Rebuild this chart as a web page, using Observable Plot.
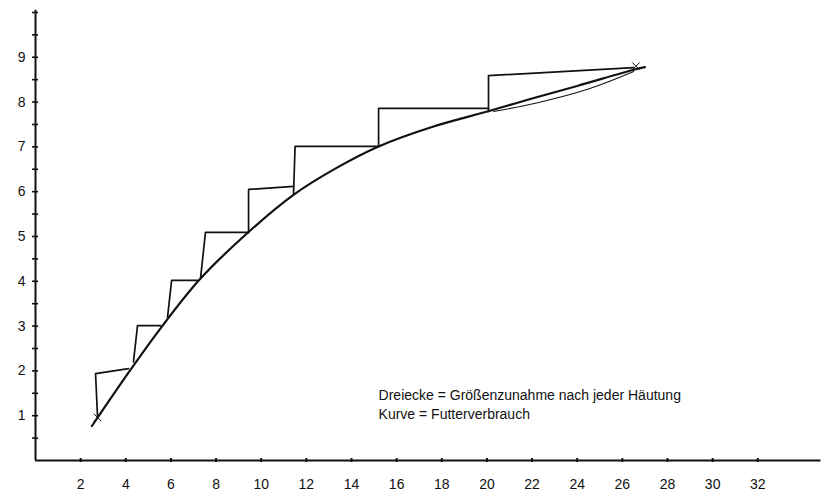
<!DOCTYPE html>
<html>
<head>
<meta charset="utf-8">
<script src="https://cdn.jsdelivr.net/npm/d3@7"></script>
<script src="https://cdn.jsdelivr.net/npm/@observablehq/plot@0.6"></script>
<style>
  html, body { margin: 0; padding: 0; background: #fff; }
  #chart svg { display: block; }
</style>
</head>
<body>
<div id="chart"></div>
<script>
// Tick labels
const xTicks = [2, 4, 6, 8, 10, 12, 14, 16, 18, 20, 22, 24, 26, 28, 30, 32];
const yTicks = [1, 2, 3, 4, 5, 6, 7, 8, 9];
const yMinorTicks = [0.5, 1, 1.5, 2, 2.5, 3, 3.5, 4, 4.5, 5, 5.5, 6, 6.5, 7, 7.5, 8, 8.5, 9, 9.5, 10];

// Kurve = Futterverbrauch
const curveX = [2.5, 4.12, 5.54, 7.31, 9.44, 11.43, 13.3, 15.2, 17.6, 20.1, 22.0, 24.0, 26.5, 27.0];
const curveY = [0.77, 1.96, 2.95, 4.06, 5.1, 5.93, 6.52, 7.01, 7.45, 7.8, 8.08, 8.36, 8.72, 8.78];
// second (redrawn) stroke of the curve near its end
const curve2X = [20.3, 22.2, 24.5, 26.5];
const curve2Y = [7.79, 7.98, 8.29, 8.68];

// Dreiecke = Größenzunahme nach jeder Häutung
const stepBaseX = [2.75, 4.34, 5.85, 7.31, 9.44, 11.43, 15.2, 20.07];
const stepBaseY = [0.96, 2.2, 3.2, 4.06, 5.09, 5.93, 7.01, 7.79];
const stepTopX  = [2.66, 4.52, 6.03, 7.53, 9.44, 11.5, 15.2, 20.07];
const stepTopY  = [1.94, 3.01, 4.02, 5.09, 6.05, 7.01, 7.86, 8.59];
const stepEndX  = [4.12, 5.54, 7.18, 9.44, 11.43, 15.2, 20.07, 26.5];
const stepEndY  = [2.05, 3.01, 4.02, 5.09, 6.12, 7.01, 7.86, 8.77];

// crosses marking start and end
const markX = [2.75, 26.6];
const markY = [0.96, 8.8];

const noteLines = ["Dreiecke = Größenzunahme nach jeder Häutung", "Kurve = Futterverbrauch"];

const curve = curveX.map((x, i) => ({x, y: curveY[i]}));
const curve2 = curve2X.map((x, i) => ({x, y: curve2Y[i]}));
const steps = stepBaseX.flatMap((x, i) => [
  {x, y: stepBaseY[i], s: i},
  {x: stepTopX[i], y: stepTopY[i], s: i},
  {x: stepEndX[i], y: stepEndY[i], s: i}
]);
const marks = markX.map((x, i) => ({x, y: markY[i]}));

const ink = "#111";

const chart = Plot.plot({
  width: 830,
  height: 497,
  marginLeft: 35,
  marginRight: 5,
  marginTop: 3,
  marginBottom: 37,
  style: {fontFamily: "'Liberation Sans', Arial, sans-serif", fontSize: "14px", color: ink, background: "#fff"},
  x: {domain: [0, 35]},
  y: {domain: [0, 10.2]},
  marks: [
    // y axis: labels
    Plot.axisY({ticks: yTicks, tickSize: 0, tickPadding: 10, label: null, fontSize: 14, fill: ink}),
    // y axis: tick marks crossing the line
    Plot.axisY({ticks: yMinorTicks, tickSize: 6, text: null, label: null, dx: 3, stroke: ink, strokeWidth: 1.6}),
    // x axis: labels
    Plot.axisX({ticks: xTicks, tickSize: 0, tickPadding: 19, label: null, fontSize: 14, fill: ink}),
    // x axis: tick marks
    Plot.axisX({ticks: xTicks, tickSize: 4, text: null, label: null, dy: -2, stroke: ink, strokeWidth: 2}),
    // axis lines
    Plot.ruleX([0], {y1: 0, y2: 10.05, stroke: ink, strokeWidth: 2}),
    Plot.ruleY([0], {x1: 0, x2: 34.8, stroke: ink, strokeWidth: 1.8}),
    // steps (triangles)
    Plot.line(steps, {x: "x", y: "y", z: "s", stroke: ink, strokeWidth: 1.7, strokeLinejoin: "round"}),
    // curve
    Plot.line(curve, {x: "x", y: "y", curve: "catmull-rom", stroke: ink, strokeWidth: 2.2}),
    Plot.line(curve2, {x: "x", y: "y", curve: "catmull-rom", stroke: ink, strokeWidth: 1.1}),
    Plot.dot(marks, {x: "x", y: "y", symbol: "times", r: 3.5, stroke: ink, strokeWidth: 1}),
    // note
    Plot.text([noteLines.join("\n")], {
      x: 15.2, y: 1.65, textAnchor: "start", lineAnchor: "top",
      lineHeight: 1.36, fontSize: 14, fill: ink
    })
  ]
});
document.getElementById("chart").append(chart);
</script>
</body>
</html>
